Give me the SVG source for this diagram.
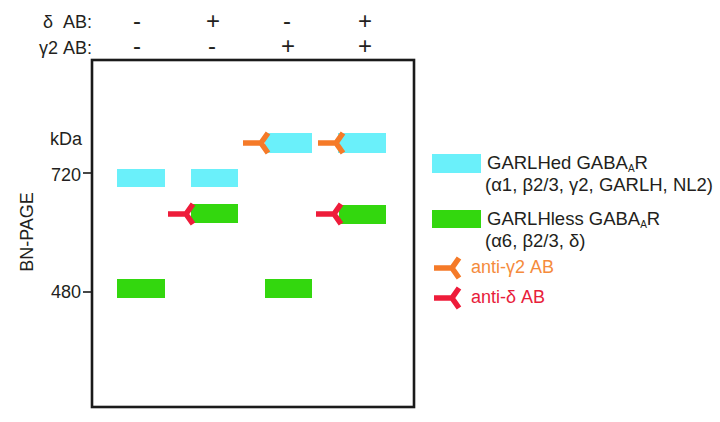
<svg xmlns="http://www.w3.org/2000/svg" xmlns:xlink="http://www.w3.org/1999/xlink" width="720" height="422" viewBox="0 0 720 422">
<style>
text{font-family:"Liberation Sans",Arial,sans-serif;font-size:18px;fill:#231f20}
.pm{font-size:24px;text-anchor:middle}
.lg{font-size:18.5px}
.sb{font-size:10px}
.cy{fill:#6af0fa}
.gr{fill:#33d70e}
.ab{fill:none;stroke-width:5.5;stroke-linejoin:miter;stroke-miterlimit:10}
.or{stroke:#f57a28}
.rd{stroke:#ee1c3a}
</style>
<defs>
<path id="y" d="M-18 0H0M7-10L0 0L7 10"/>
</defs>
<rect width="720" height="422" fill="#fff"/>
<g id="header">
<text x="43" y="28">δ</text>
<text x="92" y="28" text-anchor="end">AB:</text>
<text x="92" y="54" text-anchor="end">γ2 AB:</text>
<text class="pm" x="137" y="29">-</text>
<text class="pm" x="213" y="29">+</text>
<text class="pm" x="287" y="29">-</text>
<text class="pm" x="365" y="29">+</text>
<text class="pm" x="137" y="54">-</text>
<text class="pm" x="212" y="54">-</text>
<text class="pm" x="288" y="54">+</text>
<text class="pm" x="365" y="54">+</text>
</g>
<g id="axis">
<rect x="92" y="60" width="322" height="347" fill="none" stroke="#1a1a1a" stroke-width="2.6"/>
<line x1="83" y1="173" x2="92" y2="173" stroke="#1a1a1a" stroke-width="1.6"/>
<line x1="83" y1="292" x2="92" y2="292" stroke="#1a1a1a" stroke-width="1.6"/>
<text x="82" y="145" text-anchor="end">kDa</text>
<text x="81" y="181" text-anchor="end">720</text>
<text x="81" y="298" text-anchor="end">480</text>
<text transform="translate(33 232) rotate(-90)" text-anchor="middle">BN-PAGE</text>
</g>
<g id="bands">
<rect class="cy" x="117" y="169" width="48" height="18"/>
<rect class="cy" x="191" y="169" width="47" height="18"/>
<rect class="cy" x="265" y="133" width="47" height="20"/>
<rect class="cy" x="338" y="133" width="48" height="20"/>
<rect class="gr" x="191" y="204" width="47" height="19"/>
<rect class="gr" x="339" y="205" width="47" height="19"/>
<rect class="gr" x="117" y="279" width="48" height="19"/>
<rect class="gr" x="265" y="279" width="47" height="19"/>
</g>
<g id="antibodies">
<use xlink:href="#y" class="ab or" x="261" y="143"/>
<use xlink:href="#y" class="ab or" x="336" y="143"/>
<use xlink:href="#y" class="ab rd" x="186" y="214"/>
<use xlink:href="#y" class="ab rd" x="334" y="214"/>
</g>
<g id="legend">
<rect class="cy" x="432" y="154" width="49" height="19"/>
<text class="lg" x="487" y="169">GARLHed GABA<tspan class="sb" dy="2.5">A</tspan><tspan dy="-2.5">R</tspan></text>
<text class="lg" x="485" y="191">(α1, β2/3, γ2, GARLH, NL2)</text>
<rect class="gr" x="432" y="210" width="49" height="18"/>
<text class="lg" x="487" y="225">GARLHless GABA<tspan class="sb" dy="2.5">A</tspan><tspan dy="-2.5">R</tspan></text>
<text class="lg" x="485" y="247">(α6, β2/3, δ)</text>
<use xlink:href="#y" class="ab or" x="452" y="268"/>
<text x="471" y="273" style="fill:#f58b3c">anti-γ2 AB</text>
<use xlink:href="#y" class="ab rd" x="452" y="298"/>
<text x="471" y="303" style="fill:#e8203a">anti-δ AB</text>
</g>
</svg>
